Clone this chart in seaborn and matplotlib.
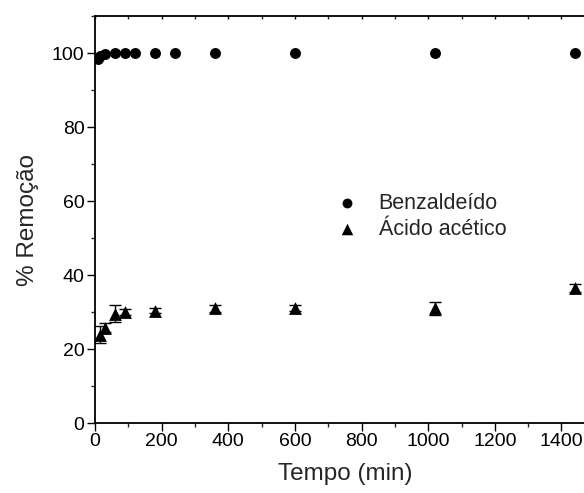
import numpy as np
import pandas as pd
import matplotlib
matplotlib.use("Agg")
import matplotlib.pyplot as plt
import seaborn as sns
from matplotlib.ticker import MultipleLocator

# Data
benz_time = [10, 15, 30, 60, 90, 120, 180, 240, 360, 600, 1020, 1440]
benz_rem = [98.5, 99.3, 99.8, 100.0, 100.0, 100.0, 100.0, 100.0, 100.0, 100.0, 100.0, 100.0]

acid_time = [15, 30, 60, 90, 180, 360, 600, 1020, 1440]
acid_rem = [23.8, 25.8, 29.5, 30.0, 30.4, 31.0, 31.0, 31.0, 36.5]
acid_err = [2.3, 1.2, 2.3, 0.8, 0.8, 1.0, 0.8, 1.8, 1.0]

xticks = [0, 200, 400, 600, 800, 1000, 1200, 1400]
yticks = [0, 20, 40, 60, 80, 100]

sns.set_theme(style="ticks")
plt.rcParams["font.family"] = ["Liberation Sans", "DejaVu Sans"]

fig = plt.figure(figsize=(5.84, 4.93), dpi=100)
ax = fig.add_axes([95 / 584, 1 - 423 / 493, 1500 * 0.3332 / 584, 407 / 493])

df_b = pd.DataFrame({"t": benz_time, "r": benz_rem})
df_a = pd.DataFrame({"t": acid_time, "r": acid_rem})

ax.errorbar(acid_time, acid_rem, yerr=acid_err, fmt="none", ecolor="black",
            elinewidth=1.0, capsize=4, capthick=1.0, zorder=2)
sns.scatterplot(data=df_b, x="t", y="r", ax=ax, marker="o", color="black",
                s=62, edgecolor="black", linewidth=0, label="Benzaldeído", zorder=3)
sns.scatterplot(data=df_a, x="t", y="r", ax=ax, marker="^", color="black",
                s=85, edgecolor="black", linewidth=0, label="Ácido acético", zorder=3)

ax.set_xlim(0, 1500)
ax.set_ylim(0, 110)
ax.set_xticks(xticks)
ax.set_yticks(yticks)
ax.xaxis.set_minor_locator(MultipleLocator(100))
ax.yaxis.set_minor_locator(MultipleLocator(10))

for s in ["left", "bottom", "top", "right"]:
    ax.spines[s].set_linewidth(1.3)
    ax.spines[s].set_color("black")

ax.tick_params(axis="both", which="major", direction="out", length=5.5, width=1.0,
               labelsize=14, colors="black", pad=2)
ax.tick_params(axis="both", which="minor", direction="out", length=3, width=1.0)
ax.xaxis.set_tick_params(which="both", top=True)
for t in ax.xaxis.get_major_ticks() + ax.xaxis.get_minor_ticks():
    t.tick2line.set_marker(matplotlib.lines.TICKDOWN)
    t.tick2line.set_markersize(2)

ax.set_xlabel("Tempo (min)", fontsize=17.5, labelpad=9)
ax.set_ylabel("% Remoção", fontsize=17.5, labelpad=9)

leg = ax.legend(loc="upper left", bbox_to_anchor=(315 / 584, 1 - 182 / 493),
                bbox_transform=fig.transFigure, frameon=False, fontsize=15.5,
                handletextpad=0.45, labelspacing=0.25, borderpad=0, markerscale=0.9)

fig.savefig("out.png", dpi=100)
